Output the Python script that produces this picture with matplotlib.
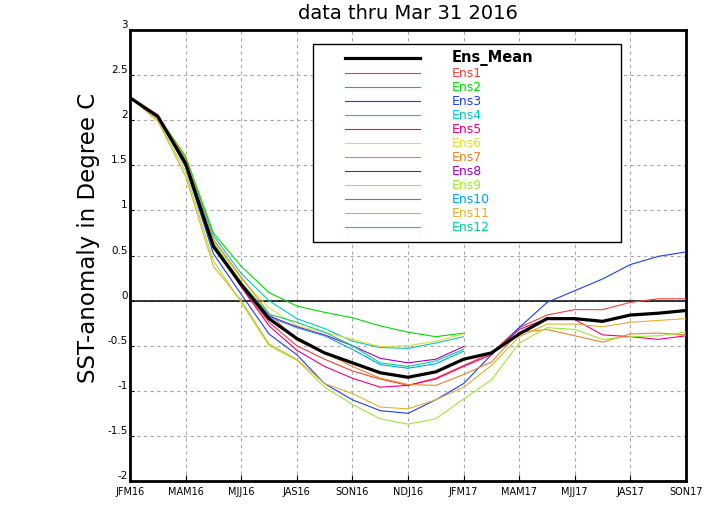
import matplotlib
matplotlib.use("Agg")
import matplotlib.pyplot as plt
from matplotlib.patches import Rectangle

# ---- data ----
seasons = ["JFM16", "FMA16", "MAM16", "AMJ16", "MJJ16", "JJA16", "JAS16", "ASO16",
           "SON16", "OND16", "NDJ16", "DJF17", "JFM17", "FMA17", "MAM17", "AMJ17",
           "MJJ17", "JJA17", "JAS17", "ASO17", "SON17"]
tick_labels = ["JFM16", "MAM16", "MJJ16", "JAS16", "SON16", "NDJ16",
               "JFM17", "MAM17", "MJJ17", "JAS17", "SON17"]
yticks = [3, 2.5, 2, 1.5, 1, 0.5, 0, -0.5, -1, -1.5, -2]
ytick_labels = ["3", "2.5", "2", "1.5", "1", "0.5", "0", "-0.5", "-1", "-1.5", "-2"]

ens_mean = [2.25, 2.04, 1.52, 0.60, 0.18, -0.20, -0.42, -0.58, -0.69, -0.80, -0.85,
            -0.79, -0.65, -0.58, -0.37, -0.20, -0.20, -0.23, -0.16, -0.14, -0.11]
ens1 = [2.25, 2.06, 1.53, 0.60, 0.16, -0.24, -0.50, -0.65, -0.78, -0.87, -0.94,
        -0.86, -0.72, -0.58, -0.30, -0.16, -0.10, -0.10, -0.02, 0.02, 0.02]
ens2 = [2.25, 2.05, 1.60, 0.75, 0.38, 0.09, -0.06, -0.13, -0.19, -0.28, -0.35, -0.40, -0.36]
ens3 = [2.25, 2.04, 1.48, 0.52, 0.07, -0.37, -0.60, -0.92, -1.10, -1.22, -1.25,
        -1.10, -0.92, -0.60, -0.30, -0.02, 0.11, 0.24, 0.40, 0.49, 0.54]
ens4 = [2.25, 2.04, 1.57, 0.72, 0.30, 0.00, -0.20, -0.31, -0.45, -0.52, -0.53, -0.47, -0.40]
ens5 = [2.25, 2.06, 1.53, 0.62, 0.15, -0.28, -0.55, -0.73, -0.86, -0.96, -0.94,
        -0.87, -0.73, -0.60, -0.32, -0.20, -0.21, -0.38, -0.40, -0.43, -0.39]
ens6 = [2.25, 2.04, 1.52, 0.66, 0.24, -0.08, -0.28, -0.35, -0.43, -0.51, -0.50, -0.45, -0.37]
ens7 = [2.25, 2.05, 1.58, 0.68, 0.26, -0.14, -0.44, -0.58, -0.73, -0.86, -0.93,
        -0.94, -0.82, -0.68, -0.35, -0.32, -0.39, -0.46, -0.37, -0.36, -0.38]
ens8 = [2.25, 2.04, 1.54, 0.62, 0.19, -0.17, -0.29, -0.38, -0.50, -0.64, -0.69, -0.65, -0.51]
ens9 = [2.25, 2.00, 1.43, 0.44, -0.02, -0.50, -0.66, -0.96, -1.15, -1.31, -1.37,
        -1.31, -1.09, -0.88, -0.47, -0.30, -0.32, -0.43, -0.40, -0.39, -0.35]
ens10 = [2.25, 2.04, 1.52, 0.60, 0.18, -0.18, -0.30, -0.39, -0.54, -0.71, -0.75, -0.70, -0.56]
ens11 = [2.25, 1.99, 1.38, 0.38, 0.00, -0.48, -0.65, -0.92, -1.03, -1.18, -1.20,
         -1.10, -0.96, -0.72, -0.40, -0.26, -0.26, -0.29, -0.24, -0.22, -0.20]
ens12 = [2.25, 2.04, 1.54, 0.64, 0.20, -0.15, -0.24, -0.35, -0.50, -0.69, -0.73, -0.67, -0.54]

names = ["Ens1", "Ens2", "Ens3", "Ens4", "Ens5", "Ens6", "Ens7", "Ens8",
         "Ens9", "Ens10", "Ens11", "Ens12"]
members = [ens1, ens2, ens3, ens4, ens5, ens6, ens7, ens8, ens9, ens10, ens11, ens12]
colors = ["#FA3C3C", "#00DC00", "#1E3CFF", "#00C8C8", "#F00082", "#E6DC32",
          "#F08228", "#A000C8", "#A0E632", "#00A0FF", "#E6AF2D", "#00D28C"]

# ---- figure ----
fig = plt.figure(figsize=(7.2, 5.09), dpi=100)
ax = fig.add_axes([130/720, 1-481/509, 556/720, 451/509])

xs = list(range(len(seasons)))
handles = []
for vals, c, n in zip(members, colors, names):
    ln, = ax.plot(xs[:len(vals)], vals, color=c, lw=0.8, label=n, zorder=3)
    handles.append(ln)
mln, = ax.plot(xs, ens_mean, color="black", lw=2.3, label="Ens_Mean", zorder=4)
handles = [mln] + handles

ax.axhline(0, color="black", lw=1.1, zorder=2)

ax.set_xlim(0, 20)
ax.set_ylim(-2, 3)
ax.set_xticks(xs[::2])
ax.set_xticklabels(tick_labels, fontsize=7, fontfamily="DejaVu Sans")
ax.set_yticks(yticks)
ax.set_yticklabels(ytick_labels, fontsize=7.5, fontfamily="DejaVu Sans")
ax.tick_params(axis="x", which="major", direction="in", length=4, width=0.8, pad=4)
ax.tick_params(axis="y", which="major", direction="in", length=3, width=0.8, pad=1.5)
for lab in ax.get_yticklabels():
    lab.set_verticalalignment("bottom")

ax.grid(True, which="major", color="#A8A8A8", linestyle=(0, (3, 3)), lw=0.8, zorder=1)
for s in ax.spines.values():
    s.set_linewidth(2.0)
    s.set_color("black")
    s.set_linestyle((0, (4, 1)))

ax.set_title("data thru Mar 31 2016", fontsize=14, pad=8)
ax.set_ylabel("SST-anomaly in Degree C", fontsize=16.5)
ax.yaxis.set_label_coords(-0.054, 0.539)

# legend box
box = Rectangle((183/556, 239/451), 308/556, 198/451, transform=ax.transAxes,
                facecolor="white", edgecolor="black", lw=1.0, zorder=5)
ax.add_patch(box)
leg = ax.legend(handles=handles, loc="upper left",
                bbox_to_anchor=(215/556, 431/451), borderaxespad=0, borderpad=0,
                handlelength=6.0, handletextpad=2.56, labelspacing=0.08,
                frameon=False, labelcolor="linecolor",
                prop={"family": "DejaVu Sans", "size": 9})
leg.get_texts()[0].set_fontweight("bold")
leg.get_texts()[0].set_fontsize(10.5)
leg.set_zorder(6)

fig.savefig("out.png", dpi=100)
